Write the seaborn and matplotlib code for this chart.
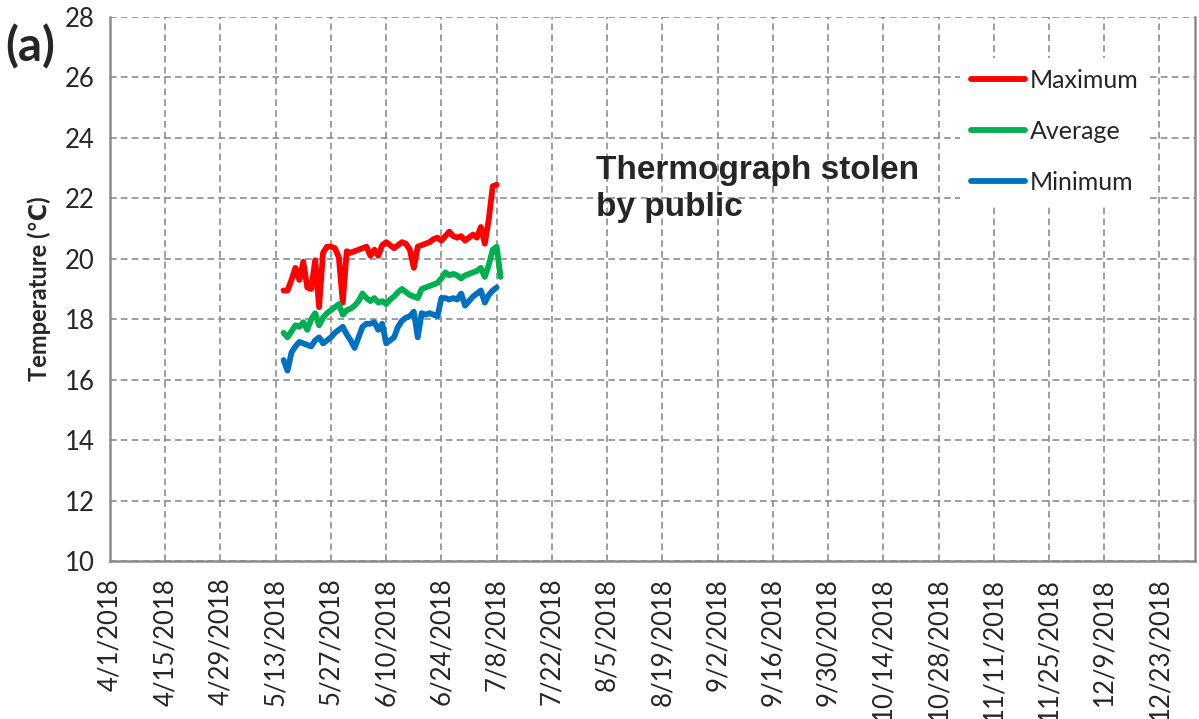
"""
Thermograph record (a): daily max / average / min temperature
"""

import pandas as pd
import numpy as np
import matplotlib
matplotlib.use('Agg')
import matplotlib.pyplot as plt
import seaborn as sns

# data, one value per day from 5/15/2018
start_date = '2018-05-15'
series_names = ['Maximum', 'Average', 'Minimum']
t_max = [18.95, 18.95, 19.3, 19.7, 19.3, 19.9, 19.05, 19.0, 19.95, 18.4,
         20.2, 20.4, 20.4, 20.35, 20.05, 18.55, 20.25, 20.2, 20.25, 20.3,
         20.35, 20.4, 20.1, 20.3, 20.1, 20.45, 20.55, 20.45, 20.35, 20.45,
         20.55, 20.5, 20.3, 19.7, 20.4, 20.45, 20.5, 20.55, 20.65, 20.7,
         20.6, 20.75, 20.9, 20.75, 20.7, 20.75, 20.6, 20.7, 20.8, 20.7,
         21.05, 20.5, 21.3, 22.4, 22.45, np.nan]
t_avg = [17.55, 17.4, 17.6, 17.8, 17.75, 17.9, 17.65, 18.0, 18.2, 17.8,
         18.05, 18.2, 18.3, 18.4, 18.5, 18.15, 18.3, 18.35, 18.45, 18.6,
         18.85, 18.7, 18.6, 18.7, 18.55, 18.6, 18.5, 18.65, 18.75, 18.9,
         19.0, 18.9, 18.8, 18.75, 18.7, 19.0, 19.05, 19.1, 19.15, 19.2,
         19.35, 19.55, 19.45, 19.5, 19.45, 19.35, 19.45, 19.5, 19.55, 19.6,
         19.7, 19.4, 19.8, 20.3, 20.4, 19.4]
t_min = [16.65, 16.3, 16.9, 17.1, 17.25, 17.2, 17.15, 17.1, 17.3, 17.4,
         17.2, 17.3, 17.4, 17.55, 17.65, 17.75, 17.5, 17.3, 17.05, 17.4,
         17.75, 17.85, 17.85, 17.9, 17.65, 17.85, 17.2, 17.3, 17.4, 17.75,
         17.95, 18.05, 18.1, 18.25, 17.4, 18.2, 18.15, 18.2, 18.15, 18.1,
         18.7, 18.7, 18.65, 18.7, 18.65, 18.85, 18.45, 18.6, 18.75, 18.85,
         18.95, 18.55, 18.8, 18.95, 19.05, np.nan]
colors = ['#FF0000', '#00B050', '#0070C0']

tick_dates = pd.date_range('2018-04-01', '2018-12-23', freq='14D')
tick_labels = [f'{d.month}/{d.day}/{d.year}' for d in tick_dates]
y_ticks = list(range(10, 29, 2))

dates = pd.date_range(start_date, periods=len(t_max), freq='D')
df = pd.DataFrame({'date': dates, 'Maximum': t_max,
                   'Average': t_avg, 'Minimum': t_min})

sns.set_style('white')
plt.rcParams['font.family'] = ['Lato', 'DejaVu Sans']

fig = plt.figure(figsize=(11.99, 7.19), dpi=100)
ax = fig.add_axes([110 / 1199, 1 - 561 / 719, 1085 / 1199, 544 / 719])

for name, col in zip(series_names, colors):
    sns.lineplot(data=df, x='date', y=name, ax=ax, color=col, linewidth=4.2,
                 label=name, solid_capstyle='round', solid_joinstyle='round')

ax.set_xlim(pd.Timestamp('2018-04-01'), pd.Timestamp('2019-01-01'))
ax.set_ylim(10, 28)
ax.set_xticks(tick_dates)
ax.set_xticklabels(tick_labels, rotation=90, fontsize=18.5)
ax.set_yticks(y_ticks)
ax.set_yticklabels([str(v) for v in y_ticks], fontsize=18.5)
ax.set_xlabel('')
ax.set_ylabel('Temperature (℃)', fontsize=17, fontweight='bold', labelpad=10)

ax.grid(True, color='#8c8c8c', linestyle=(0, (4, 2.5)), linewidth=1.2)
for s in ['left', 'bottom', 'right']:
    ax.spines[s].set_color('#8c8c8c')
    ax.spines[s].set_linewidth(1.8)
ax.spines['top'].set_visible(False)
ax.tick_params(axis='x', direction='out', length=8, width=1.5, color='#8c8c8c', pad=4)
ax.tick_params(axis='y', direction='inout', length=10, width=1.5, color='#8c8c8c', pad=6)

leg = ax.legend(loc='upper left', bbox_to_anchor=(0.783, 0.925), fontsize=18,
                frameon=True, fancybox=False, edgecolor='none', facecolor='white',
                framealpha=1, handlelength=2.15, handletextpad=0.2,
                labelspacing=1.12, borderpad=0.45, borderaxespad=0)

ax.text(0.448, 0.747, 'Thermograph stolen\nby public', transform=ax.transAxes,
        fontsize=24, fontweight='bold', va='top', ha='left', linespacing=1.25,
        family=['Liberation Sans', 'DejaVu Sans'])
fig.text(5 / 1199, 1 - 47 / 719, '(a)', fontsize=34, fontweight='bold',
         va='center', ha='left')

plt.savefig('out.png', dpi=100)
plt.close()
